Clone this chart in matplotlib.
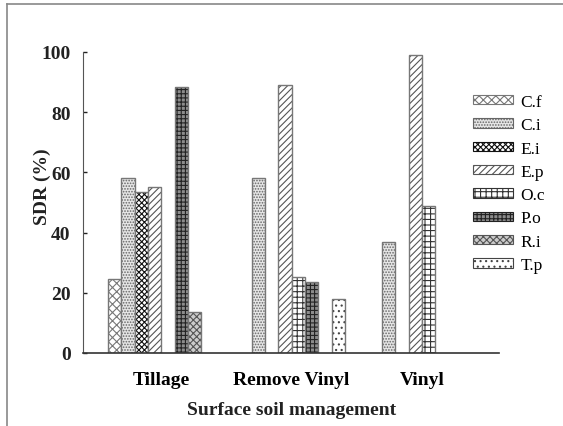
import matplotlib.pyplot as plt
from matplotlib.lines import Line2D
import numpy as np

# ---- data ----
groups = ['Tillage', 'Remove Vinyl', 'Vinyl']
species = ['C.f', 'C.i', 'E.i', 'E.p', 'O.c', 'P.o', 'R.i', 'T.p']
sdr = {
    'C.f': [24.5, 0, 0],
    'C.i': [58, 58.3, 37],
    'E.i': [53.5, 0, 0],
    'E.p': [55.3, 89, 99],
    'O.c': [0, 25.2, 49],
    'P.o': [88.3, 23.6, 0],
    'R.i': [13.5, 0, 0],
    'T.p': [0, 18, 0],
}

# fill styles per species (face, hatch, hatch colour)
styles = {
    'C.f': ('white', 'xxxx', '#777777'),
    'C.i': ('#e6e6e6', '......', '#666666'),
    'E.i': ('white', 'xxxxxx', '#111111'),
    'E.p': ('white', '/////', '#555555'),
    'O.c': ('white', '+++', '#333333'),
    'P.o': ('#8c8c8c', '++++', '#222222'),
    'R.i': ('#cccccc', 'xxxxx', '#555555'),
    'T.p': ('white', '...', '#444444'),
}

plt.rcParams['font.family'] = ['Liberation Serif', 'DejaVu Serif']
plt.rcParams['hatch.linewidth'] = 0.8

fig = plt.figure(figsize=(5.63, 4.27), dpi=100)
ax = fig.add_axes([83/563, 1-354/427, (499-83)/563, (354-53)/427])

x = np.arange(len(groups))
w = 0.102
for i, sp in enumerate(species):
    fc, ht, hc = styles[sp]
    vals = np.array(sdr[sp], dtype=float)
    off = (i - 3.5) * w
    # hatched fill
    ax.bar(x + off, vals, w, color=fc, hatch=ht, edgecolor=hc, linewidth=0, label=sp)
    # grey outline on top (skip empty bars)
    mask = vals > 0
    ax.bar((x + off)[mask], vals[mask], w, fill=False, edgecolor='#777777', linewidth=1.0)

ax.set_xlim(-0.6, 2.59)
ax.set_ylim(0, 100)
ax.set_yticks([0, 20, 40, 60, 80, 100])
ax.set_xticks(x)
ax.set_xticklabels(groups, fontsize=14, fontweight='bold')
ax.tick_params(axis='x', length=0, pad=13)
ax.tick_params(axis='y', direction='in', length=3, width=1, pad=9, labelsize=14, colors='#222222')
for lab in ax.get_yticklabels():
    lab.set_fontweight('bold')
ax.spines['top'].set_visible(False)
ax.spines['right'].set_visible(False)
ax.spines['left'].set_color('#555555')
ax.spines['bottom'].set_color('#333333')
ax.spines['bottom'].set_linewidth(1.2)

fig.text(42/563, 1-187/427, 'SDR (%)', rotation=90, ha='center', va='center',
         fontsize=14, fontweight='bold', color='#222222')
fig.text(292/563, 1-411/427, 'Surface soil management', ha='center', va='center',
         fontsize=14, fontweight='bold', color='#222222')

# legend (one handle per species, built from the hatched bars)
handles, labels = ax.get_legend_handles_labels()
leg = fig.legend(handles, labels, loc='upper left', bbox_to_anchor=(473/563, 1-95/427),
                 bbox_transform=fig.transFigure, frameon=False, fontsize=12.5,
                 handlelength=2.3, handleheight=0.45, handletextpad=0.45,
                 labelspacing=0.42, borderpad=0, borderaxespad=0)
for p in leg.get_patches():
    p.set_linewidth(0.8)

# outer grey frame (only top and left edges show in the picture)
fig.add_artist(Line2D([7/563, 7/563], [0, 1-5/427], transform=fig.transFigure, color='#888888', lw=1.2))
fig.add_artist(Line2D([7/563, 1], [1-5/427, 1-5/427], transform=fig.transFigure, color='#888888', lw=1.2))

fig.savefig('out.png', dpi=100)
